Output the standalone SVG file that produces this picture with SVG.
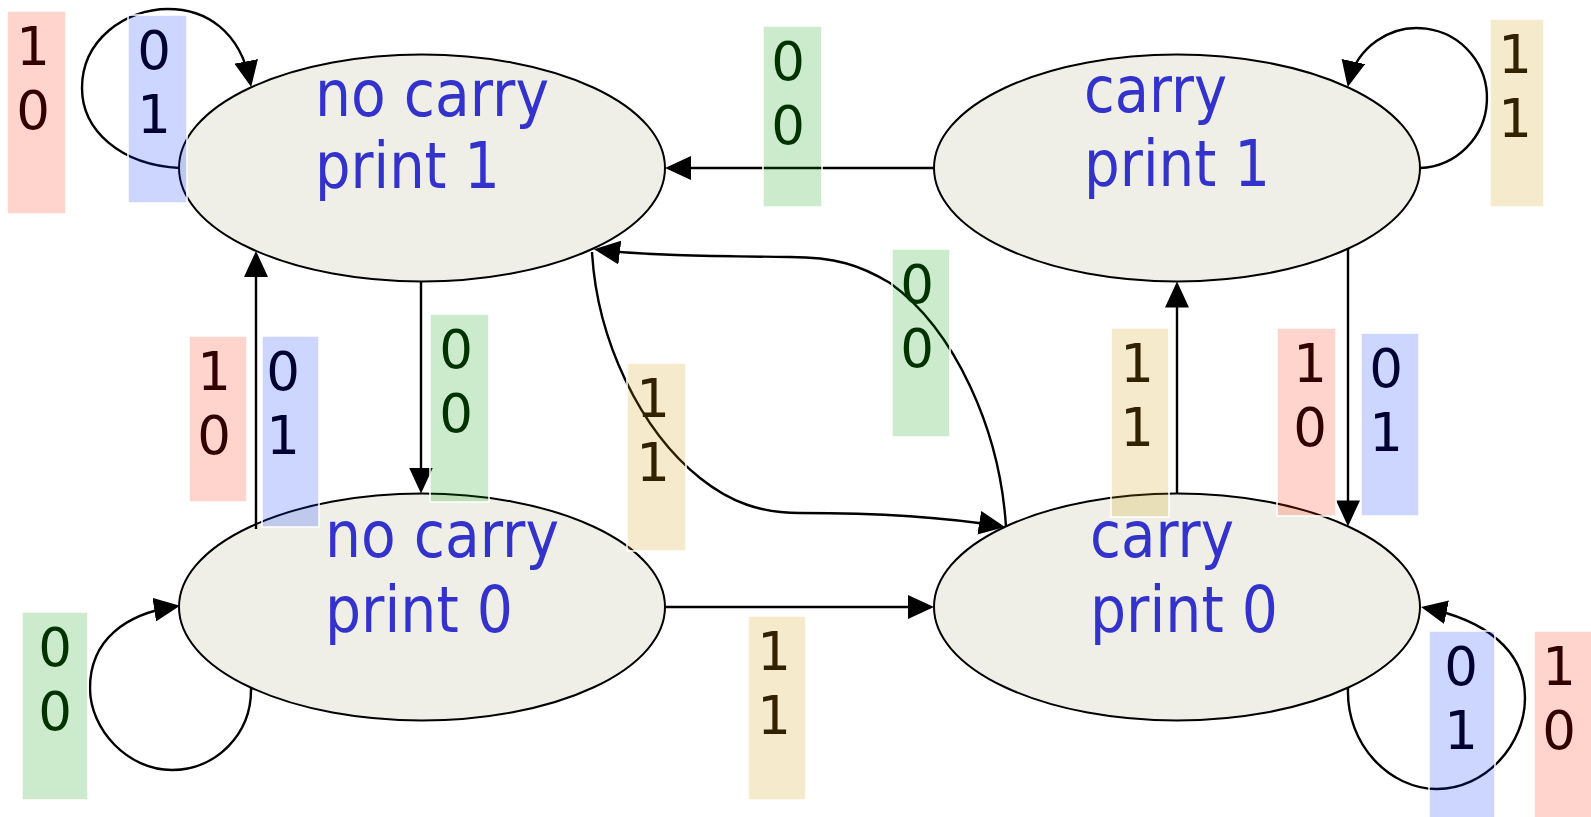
<svg xmlns="http://www.w3.org/2000/svg" width="1591" height="817" viewBox="0 0 1591 817">
<defs>
<style>
.st{fill:#efefe7;stroke:#000;stroke-width:2}
.nt{font-family:"DejaVu Sans","Verdana",sans-serif;font-size:64px;fill:#3333cc}
.cn{fill:none;stroke:#000;stroke-width:2.4;marker-end:url(#arr)}
.lb{stroke:#fff;stroke-width:1.5;fill-opacity:0.2}
.lt{font-family:"DejaVu Sans","Verdana",sans-serif;font-size:53px;text-anchor:middle}
.r rect{fill:#ff2a00}.r text{fill:#330000}
.b rect{fill:#0033ff}.b text{fill:#000033}
.g rect{fill:#009900}.g text{fill:#003300}
.y rect{fill:#cc9900}.y text{fill:#332200}
</style>
<marker id="arr" markerUnits="userSpaceOnUse" markerWidth="26" markerHeight="24" viewBox="0 0 26 24" refX="22" refY="12" orient="auto"><path d="M0,0 L26,12 L0,24 z" fill="#000"/></marker>
</defs>
<rect width="1591" height="817" fill="#fff"/>
<g id="node-nocarry-print1">
<ellipse class="st" cx="422" cy="168" rx="243" ry="113.5"/>
<text class="nt" x="315" y="116" textLength="234" lengthAdjust="spacingAndGlyphs">no carry</text>
<text class="nt" x="315" y="188" textLength="185" lengthAdjust="spacingAndGlyphs">print 1</text>
</g>
<g id="node-carry-print1">
<ellipse class="st" cx="1177" cy="168" rx="243" ry="113.5"/>
<text class="nt" x="1084" y="112" textLength="143" lengthAdjust="spacingAndGlyphs">carry</text>
<text class="nt" x="1084" y="186" textLength="186" lengthAdjust="spacingAndGlyphs">print 1</text>
</g>
<g id="node-nocarry-print0">
<ellipse class="st" cx="422" cy="607" rx="243" ry="113.5"/>
<text class="nt" x="325" y="556.5" textLength="234" lengthAdjust="spacingAndGlyphs">no carry</text>
<text class="nt" x="325" y="631.5" textLength="188" lengthAdjust="spacingAndGlyphs">print 0</text>
</g>
<g id="node-carry-print0">
<ellipse class="st" cx="1177" cy="607" rx="243" ry="113.5"/>
<text class="nt" x="1090" y="556.5" textLength="144" lengthAdjust="spacingAndGlyphs">carry</text>
<text class="nt" x="1090" y="631.5" textLength="188" lengthAdjust="spacingAndGlyphs">print 0</text>
</g>
<g id="connectors">
<path class="cn" d="M180,168 C120,165 82,130 82,88 C82,40 125,9 168,9 C205,9 240,30 250.4,83"/>
<path class="cn" d="M1420,168 A70,70 0 1 0 1348.6,83"/>
<path class="cn" d="M251,688 C252,735 215,770 172,770 C128,770 90,730 90,688 C90,640 125,614 176,606.3"/>
<path class="cn" d="M1348,688 C1346,745 1390,789 1437,789 C1485,789 1525,745 1525,698 C1525,650 1485,620 1425,607.8"/>
<path class="cn" d="M935,168 L669,168"/>
<path class="cn" d="M421,281.5 L421,489.5"/>
<path class="cn" d="M256,529 L256,254.9"/>
<path class="cn" d="M665,607 L930,607"/>
<path class="cn" d="M1177,493.5 L1177,285.5"/>
<path class="cn" d="M1348,248.6 L1348,522.4"/>
<path class="cn" d="M592,252 C597,340 640,430 700,478 C730,502 760,513 800,513 C880,513 950,518 1001,526.3"/>
<path class="cn" d="M1006,527 C1000,430 955,330 890,283 C860,265 835,257 790,257 C700,256 640,255 598,249.8"/>
</g>
<g id="edge-labels">
<g id="lbl-1" class="r"><rect class="lb" x="7" y="11" width="59" height="203"/><text class="lt" x="33" y="65">1<tspan x="33" y="129">0</tspan></text></g>
<g id="lbl-2" class="b"><rect class="lb" x="128" y="15" width="59" height="188"/><text class="lt" x="154" y="69">0<tspan x="154" y="133">1</tspan></text></g>
<g id="lbl-3" class="g"><rect class="lb" x="763" y="26" width="59" height="181"/><text class="lt" x="788" y="80">0<tspan x="788" y="144">0</tspan></text></g>
<g id="lbl-4" class="y"><rect class="lb" x="1490" y="19" width="54" height="188"/><text class="lt" x="1515" y="73">1<tspan x="1515" y="137">1</tspan></text></g>
<g id="lbl-5" class="r"><rect class="lb" x="189" y="336" width="58" height="166"/><text class="lt" x="214" y="390">1<tspan x="214" y="454">0</tspan></text></g>
<g id="lbl-6" class="b"><rect class="lb" x="262" y="336" width="57" height="191"/><text class="lt" x="283" y="390">0<tspan x="283" y="454">1</tspan></text></g>
<g id="lbl-7" class="g"><rect class="lb" x="430" y="314" width="59" height="188"/><text class="lt" x="456" y="368">0<tspan x="456" y="432">0</tspan></text></g>
<g id="lbl-8" class="y"><rect class="lb" x="627" y="363" width="59" height="188"/><text class="lt" x="653" y="417">1<tspan x="653" y="481">1</tspan></text></g>
<g id="lbl-9" class="g"><rect class="lb" x="892" y="249" width="58" height="188"/><text class="lt" x="917" y="303">0<tspan x="917" y="367">0</tspan></text></g>
<g id="lbl-10" class="y"><rect class="lb" x="1111" y="328" width="58" height="189"/><text class="lt" x="1137" y="382">1<tspan x="1137" y="446">1</tspan></text></g>
<g id="lbl-11" class="r"><rect class="lb" x="1277" y="328" width="59" height="188"/><text class="lt" x="1310" y="382">1<tspan x="1310" y="446">0</tspan></text></g>
<g id="lbl-12" class="b"><rect class="lb" x="1361" y="333" width="58" height="183"/><text class="lt" x="1386" y="387">0<tspan x="1386" y="451">1</tspan></text></g>
<g id="lbl-13" class="g"><rect class="lb" x="22" y="612" width="66" height="188"/><text class="lt" x="55" y="666">0<tspan x="55" y="730">0</tspan></text></g>
<g id="lbl-14" class="y"><rect class="lb" x="748" y="616" width="58" height="184"/><text class="lt" x="774" y="670">1<tspan x="774" y="734">1</tspan></text></g>
<g id="lbl-15" class="b"><rect class="lb" x="1429" y="631" width="66" height="190"/><text class="lt" x="1461" y="685">0<tspan x="1461" y="749">1</tspan></text></g>
<g id="lbl-16" class="r"><rect class="lb" x="1534" y="631" width="60" height="190"/><text class="lt" x="1559" y="685">1<tspan x="1559" y="749">0</tspan></text></g>
</g>
</svg>
